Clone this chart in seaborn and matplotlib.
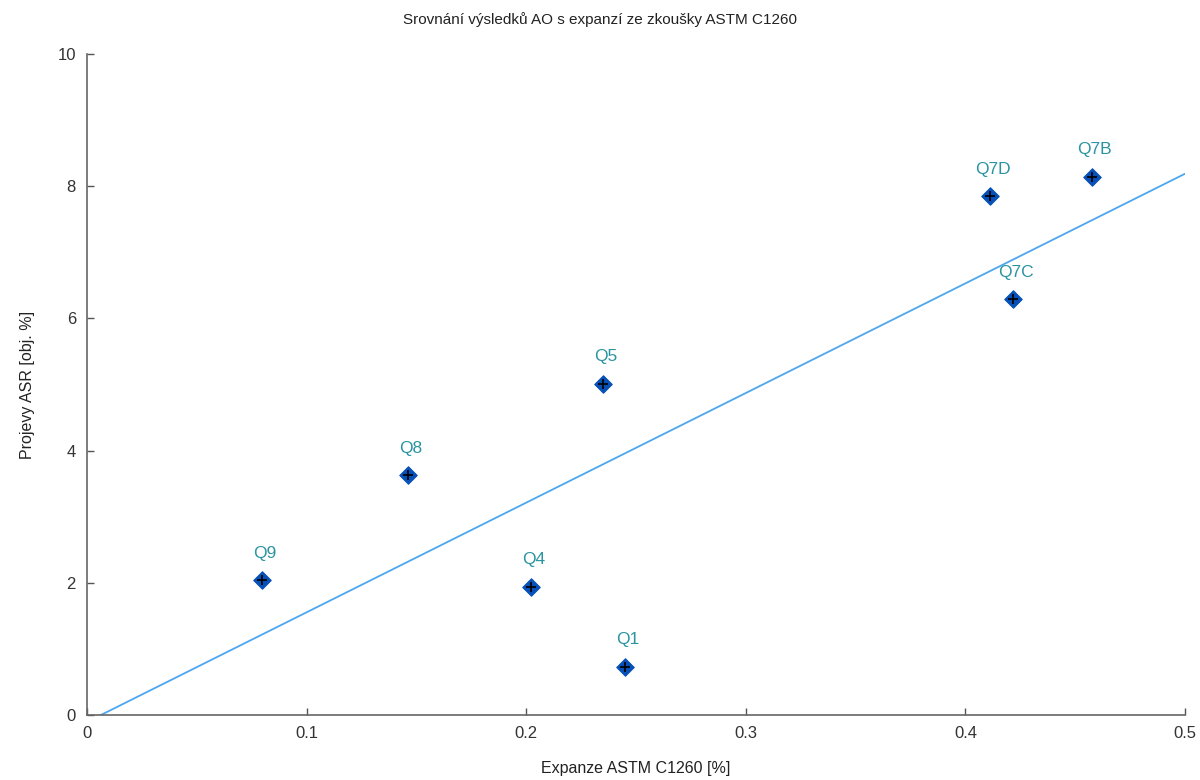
import numpy as np
import pandas as pd
import seaborn as sns
import matplotlib
matplotlib.use("Agg")
import matplotlib.pyplot as plt

# hodnoty
vzorky = ['Q9', 'Q8', 'Q4', 'Q1', 'Q5', 'Q7D', 'Q7C', 'Q7B']
expanze = [0.0797, 0.1462, 0.2022, 0.2450, 0.2350, 0.4112, 0.4217, 0.4577]
asr = [2.04, 3.63, 1.94, 0.73, 5.01, 7.85, 6.29, 8.14]

df = pd.DataFrame({'vzorek': vzorky, 'expanze': expanze, 'asr': asr})

sns.set_style("white")
plt.rcParams['font.family'] = ['Liberation Sans', 'DejaVu Sans']

fig = plt.figure(figsize=(12, 7.8), dpi=100)
ax = fig.add_axes([0.0725, 0.0833, 0.915, 0.8475])
ax.set_xlim(0, 0.5)
ax.set_ylim(0, 10)

sns.regplot(data=df, x='expanze', y='asr', ax=ax, ci=None, truncate=False,
            scatter=False, line_kws={'color': '#4da6f0', 'lw': 1.3})
sns.scatterplot(data=df, x='expanze', y='asr', ax=ax, marker='D', s=80,
                color='#0750b8', edgecolor='#0750b8', zorder=3)
ax.scatter(df['expanze'], df['asr'], marker='+', s=60, color='black',
           linewidths=1.2, zorder=4)

for _, r in df.iterrows():
    ax.annotate(r['vzorek'], (r['expanze'], r['asr']), xytext=(2, 14),
                textcoords='offset points', ha='center', va='bottom',
                fontsize=12.5, color='#2a94a0')

ax.set_xlim(0, 0.5)
ax.set_ylim(0, 10)
ax.set_xticks([0, 0.1, 0.2, 0.3, 0.4, 0.5])
ax.set_xticklabels(['0', '0.1', '0.2', '0.3', '0.4', '0.5'])
ax.set_yticks([0, 2, 4, 6, 8, 10])
ax.tick_params(direction='in', length=5, width=1, colors='#555555',
               labelcolor='#333333', labelsize=12, pad=8,
               bottom=True, left=True)
for s in ['top', 'right']:
    ax.spines[s].set_visible(False)
for s in ['left', 'bottom']:
    ax.spines[s].set_color('#666666')
    ax.spines[s].set_linewidth(1.2)

ax.set_xlabel('Expanze ASTM C1260 [%]', fontsize=11.5, color='#222222', labelpad=14)
ax.set_ylabel('Projevy ASR [obj. %]', fontsize=11.5, color='#222222', labelpad=16)
fig.text(0.5, 0.975, 'Srovnání výsledků AO s expanzí ze zkoušky ASTM C1260',
         ha='center', va='center', fontsize=11, color='#222222')

plt.savefig('out.png', dpi=100)
